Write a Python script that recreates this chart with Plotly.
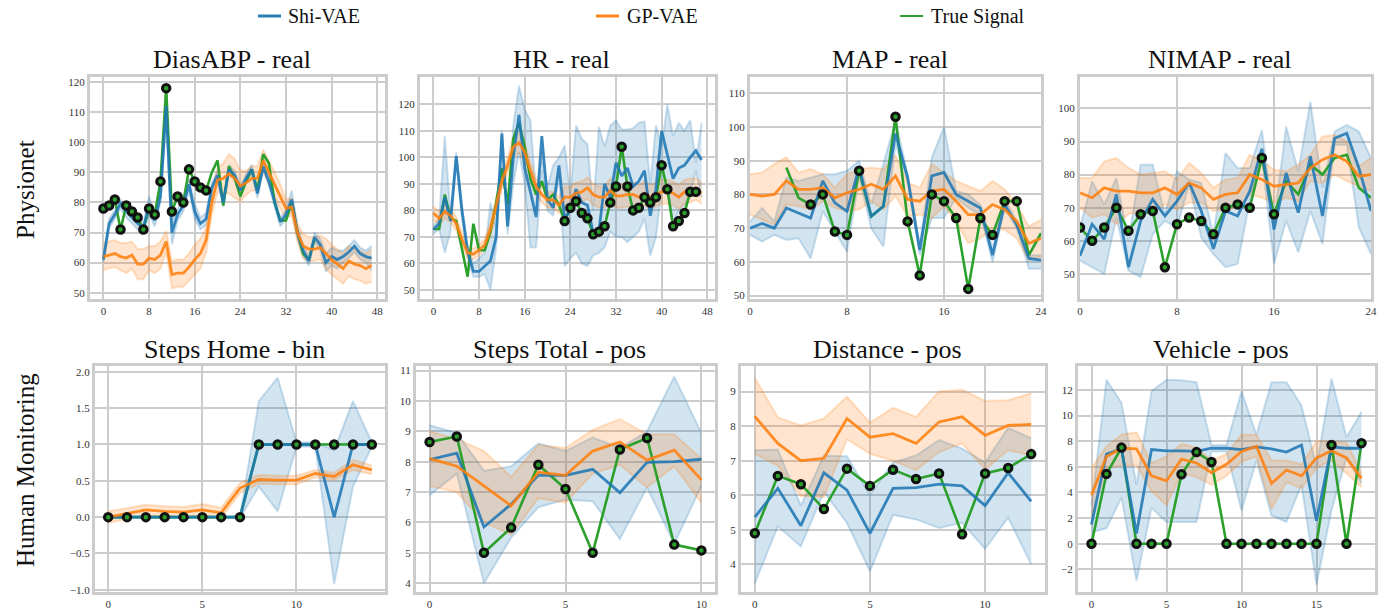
import plotly.graph_objects as go

# ---------------- DATA ----------------
TITLES = ["DiasABP - real", "HR - real", "MAP - real", "NIMAP - real",
          "Steps Home - bin", "Steps Total - pos", "Distance - pos", "Vehicle - pos"]
ROW_LABELS = ["Physionet", "Human Monitoring"]
LEGEND_NAMES = ["Shi-VAE", "GP-VAE", "True Signal"]

# DiasABP
DIAS_BLUE = [61, 73, 76, 79.5, 77, 75, 73, 71.5, 79, 74, 82, 112, 70, 76, 79, 86, 77, 73, 74.5, 85,
             89, 80, 91, 89, 84, 88, 91, 83, 92, 87, 80, 73.5, 76, 81, 70, 64, 60.5, 68.5, 66, 60,
             62, 61, 62, 63.5, 65.5, 63, 62, 61.5]
DIAS_BLUE_HW = [1, 1.5, 1.5, 1.5, 2, 2, 2, 1.5, 3, 2, 2, 3, 4, 2, 2, 2, 2.5, 2, 2, 1.5,
                1.5, 1.5, 1.5, 1.5, 1.5, 1.5, 1.5, 1.5, 1.5, 1.5, 1.5, 1.5, 1.5, 3, 2, 2, 1.5, 1.5, 2, 3,
                3, 3, 2, 2, 2, 2, 2, 4]
DIAS_ORANGE = [62, 62.5, 63, 62, 61.5, 62.5, 59.5, 59.5, 61.5, 61, 62.5, 67, 56, 56.5, 56.5, 58.5, 61, 63,
               67.5, 80, 87.5, 88, 89.5, 88, 85.5, 86.5, 88, 88, 94, 90, 86, 82, 78, 78.5, 70, 65.5,
               64.5, 64.5, 65, 63, 61, 59.5, 58, 60.5, 59.5, 59, 58, 59]
DIAS_ORANGE_HW = [4.5, 4.5, 4.5, 4.5, 5, 4.5, 5, 5, 4, 4.5, 4.5, 3.5, 4.5, 4.5, 4.5, 4.5, 5, 5, 4, 4,
                  4, 5, 6.5, 6.5, 5, 4, 4, 4, 3.5, 4, 4, 4, 3, 3, 3, 4, 4, 4, 4, 5,
                  5, 5, 5, 5, 5, 5, 5, 5.5]
DIAS_TRUE = [78, 79, 81, 71, 79, 77, 75, 71, 78, 76, 87, 118, 77, 82, 80, 91, 87, 85, 84, 90,
             94, 79, 92, 88, 82, 87, 91, 84, 96, 93, 80, 74, 74, 80, 70, 63, 61, 68] + [None] * 10
DIAS_OBS = list(range(0, 19))

# HR
HR_BLUE = [72.8, 75, 85, 76, 100.5, 80, 64.5, 57, 57, 59, 61, 70, 109, 74, 100, 116, 96, 87, 77.5, 108,
           84, 81, 97, 77, 80, 88, 83, 82, 71.5, 72, 90, 85, 98, 93, 96, 89, 91, 95, 78, 88,
           110, 101, 92, 96, 97, 100, 102.5, 99]
HR_BLUE_HI = [74, 77, 108, 78, 102, 82, 66, 60, 62, 64, 83, 73, 110, 76, 112, 127, 118, 114, 86, 100,
              89, 97, 100, 104.5, 86, 112, 107, 105, 80, 111.5, 104, 112, 114, 110.5, 110.5, 111, 113, 113.5, 90, 112,
              104, 120, 108, 113, 110, 114, 98, 113]
HR_BLUE_LO = [71, 73, 64, 72, 99, 77, 62, 55, 55, 56, 50, 66, 106, 71, 90, 102, 90, 66, 66, 95,
              80, 78, 93, 59, 62, 64, 60, 59, 63, 64, 66, 72, 70, 70, 68, 70, 72, 77, 63, 70,
              88, 90, 75, 80, 82, 85, 95, 85]
HR_ORANGE = [79, 77, 79.5, 78, 75, 69, 64, 63.5, 65, 67, 73, 82, 91, 97, 104, 105.5, 102, 95, 89, 86,
             84, 84, 82, 85, 85, 86.5, 87, 88.5, 86, 85, 85, 87.5, 85.5, 85.5, 86, 86, 85, 86.5, 85, 86,
             87, 87, 86.5, 85, 87, 87.5, 88, 86.5]
HR_ORANGE_HW = [2.5, 2.5, 2.5, 2.5, 2.5, 2.5, 2, 2, 2, 2, 2.5, 2.5, 3, 3, 3.5, 4, 3.5, 3, 3, 3,
                3, 3, 3, 4, 4, 4, 4, 4, 4, 4, 4, 4.5, 4.5, 4.5, 4.5, 4.5, 4.5, 4.5, 4.5, 4.5,
                4.5, 4.5, 4.5, 4.5, 4.5, 4.5, 4, 4]
HR_TRUE = [73, 73, 86, 77, 76, 65, 55, 75, 65, 65, 72, 83, 96, 82, 107, 113, 104, 92, 86, 91,
           84, 86, 82, 76, 81, 83.5, 79, 77, 71, 72, 74, 83, 89, 104, 89, 80, 81, 85, 83, 85,
           97, 88, 74, 76, 79, 87, 87, None]
HR_OBS = list(range(23, 47))

# MAP
MAP_BLUE = [70, 71.4, 70, 76, 74.5, 73, 84, 77.5, 75, 88, 73.5, 76.5, 98, 85, 63.5, 85.5, 86.5, 80, 78, 76,
            62, 77, 71, 61, 60.5]
MAP_BLUE_HI = [72, 76, 72, 85, 84, 85, 86, 86, 87, 90, 77, 89, 102, 86, 65, 91, 100, 81, 80, 77,
               64, 79, 72, 62, 62]
MAP_BLUE_LO = [68, 66, 68, 66.5, 67, 61, 75, 69, 63, 85, 70, 64.5, 95, 84, 62, 73, 73, 79, 76, 74,
               60, 76, 70, 58, 58]
MAP_ORANGE = [80, 79.5, 80, 84, 81.5, 81.5, 82, 79, 80.5, 81.5, 83, 81.5, 85.5, 78.5, 78, 81, 81.5, 78, 74, 74,
              77, 75.5, 72, 65.5, 67]
MAP_ORANGE_HW = [6, 7, 9, 7, 5, 6, 4, 3, 5.5, 6, 5, 6, 6, 5, 4, 8, 5, 6, 8.5, 7,
                 7, 6, 5, 5, 5.5]
MAP_TRUE = [None, None, None, 88, 79, 77, 80, 69, 68, 87, 73.5, 76.5, 103, 72, 56, 80, 78, 73, 52, 73,
            68, 78, 78, 62, 68.5]
MAP_OBS = [5, 6, 7, 8, 9, 12, 13, 14, 15, 16, 17, 18, 19, 20, 21, 22]

# NIMAP
NIMAP_BLUE = [55.5, 65, 60.5, 74, 52, 66, 72.5, 67.5, 72, 77.6, 69, 57.6, 69, 67.5, 75, 87.8, 63.4, 80.5, 68.5, 85.5,
              67.5, 91, 92.5, 82, 69]
NIMAP_BLUE_HI = [64, 78, 71, 79, 60, 83, 83, 68, 81, 78.5, 77.5, 62, 86.5, 82, 82, 93.5, 66, 94.5, 81, 102,
                 76, 93, 95, 93, 85]
NIMAP_BLUE_LO = [54, 52, 50, 67, 51, 49, 62, 66, 64, 77, 61, 56, 52, 53, 72, 85, 53, 66, 56.5, 69,
                 59, 89, 89, 64, 56]
NIMAP_ORANGE = [74.5, 73, 76, 75, 75, 74.5, 74.5, 76, 74, 77.5, 76, 72.5, 74, 74.5, 80, 78.5, 76.5, 77, 77.5, 82,
                84.5, 86, 84, 79.5, 80]
NIMAP_ORANGE_HW = [4.5, 6, 8, 10, 7, 5.5, 6, 5, 4.5, 6, 4.5, 3.5, 4.5, 4.5, 6, 5.5, 5, 4, 5.5, 4,
                   7, 6, 6, 3, 5]
NIMAP_TRUE = [64, 60, 64, 70, 63, 68, 69, 52, 65, 67, 66, 62, 70, 71, 70, 85, 68, 78, 74, 83,
              80, 85, 86, 76, 73]
NIMAP_OBS = list(range(0, 17))

# Steps Home
HOME_BLUE = [0, 0, 0, 0, 0, 0, 0, 0, 1, 1, 1, 1, 0, 1, 1]
HOME_BLUE_HI = [0.01, 0.01, 0.01, 0.01, 0.01, 0.01, 0.01, 0.01, 1.6, 1.92, 1.03, 1.03, 0.92, 1.6, 1.03]
HOME_BLUE_LO = [-0.01, -0.01, -0.01, -0.01, -0.01, -0.01, -0.01, -0.01, 0.42, 0.08, 0.97, 0.97, -0.92, 0.42, 0.97]
HOME_ORANGE = [0.0, 0.05, 0.1, 0.08, 0.07, 0.1, 0.06, 0.4, 0.52, 0.51, 0.51, 0.6, 0.56, 0.72, 0.65]
HOME_ORANGE_HW = [0.08, 0.07, 0.07, 0.07, 0.07, 0.08, 0.07, 0.07, 0.06, 0.06, 0.06, 0.05, 0.05, 0.07, 0.06]
HOME_TRUE = [0, 0, 0, 0, 0, 0, 0, 0, 1, 1, 1, 1, 1, 1, 1]
HOME_OBS = list(range(0, 15))

# Steps Total
TOTAL_BLUE = [8.07, 8.28, 5.85, 6.6, 7.55, 7.55, 7.75, 6.98, 7.98, 8.0, 8.08]
TOTAL_BLUE_HI = [9.2, 8.95, 7.7, 7.85, 8.6, 8.35, 8.8, 8.45, 9.0, 10.8, 8.95]
TOTAL_BLUE_LO = [6.9, 7.6, 4.0, 5.5, 6.5, 6.75, 6.7, 5.45, 7.15, 5.3, 7.2]
TOTAL_ORANGE = [8.1, 7.85, 7.2, 6.55, 7.65, 7.55, 8.35, 8.65, 8.05, 8.38, 7.4]
TOTAL_ORANGE_HI = [9.0, 8.75, 8.35, 7.5, 8.55, 8.45, 9.05, 9.4, 8.9, 8.9, 8.1]
TOTAL_ORANGE_LO = [7.2, 7.0, 6.0, 5.6, 6.8, 6.65, 7.6, 7.9, 7.15, 7.85, 6.65]
TOTAL_TRUE = [8.65, 8.83, 5.0, 5.83, 7.9, 7.1, 5.0, 8.4, 8.78, 5.27, 5.08]
TOTAL_OBS = list(range(0, 11))

# Distance
DIST_BLUE = [5.37, 6.2, 5.12, 6.65, 6.15, 4.9, 6.2, 6.22, 6.32, 6.27, 5.7, 6.65, 5.82]
DIST_BLUE_HI = [7.3, 7.32, 5.7, 7.15, 7.13, 6.0, 6.95, 7.15, 7.6, 7.35, 6.95, 7.95, 7.65]
DIST_BLUE_LO = [3.45, 5.1, 4.52, 6.1, 5.2, 3.8, 5.43, 5.3, 5.05, 5.2, 4.45, 5.35, 4.0]
DIST_ORANGE = [8.28, 7.5, 7.0, 7.07, 8.22, 7.68, 7.78, 7.5, 8.12, 8.27, 7.73, 8.02, 8.05]
DIST_ORANGE_HI = [9.4, 8.25, 8.02, 8.22, 8.85, 8.1, 8.53, 8.27, 9.0, 9.05, 8.73, 8.75, 8.95]
DIST_ORANGE_LO = [7.2, 6.85, 5.98, 5.95, 7.62, 7.2, 7.0, 6.72, 7.25, 7.5, 6.75, 7.3, 7.15]
DIST_TRUE = [4.9, 6.56, 6.32, 5.6, 6.77, 6.27, 6.74, 6.47, 6.63, 4.87, 6.63, 6.79, 7.19]
DIST_OBS = list(range(0, 13))

# Vehicle
VEH_BLUE = [1.5, 7.0, 7.4, 0.8, 7.35, 7.25, 7.25, 7.2, 7.45, 7.45, 7.35, 7.55, 7.4, 7.15, 7.7, 1.8, 7.55, 7.45, 7.45]
VEH_BLUE_HI = [3.0, 12.8, 11.0, 4.6, 11.9, 12.8, 12.75, 12.6, 7.7, 7.7, 11.9, 8.5, 12.6, 12.6, 10.8, 6.0, 12.9, 8.3, 10.3]
VEH_BLUE_LO = [0.9, 1.2, 3.6, -2.9, 2.8, 1.7, 1.7, 1.7, 7.2, 7.2, 2.6, 6.5, 2.2, 1.7, 4.6, -3.2, 2.6, 6.7, 4.7]
VEH_ORANGE = [3.8, 6.8, 7.45, 7.4, 5.3, 4.9, 6.6, 6.3, 5.55, 6.2, 7.2, 7.6, 4.7, 5.75, 5.3, 6.7, 7.25, 6.7, 5.1]
VEH_ORANGE_HI = [5.9, 7.6, 8.5, 8.7, 6.3, 6.8, 7.8, 7.5, 6.5, 7.0, 8.5, 8.5, 6.5, 6.5, 6.2, 8.0, 8.0, 7.9, 5.5]
VEH_ORANGE_LO = [2.0, 5.9, 6.1, 6.1, 4.1, 3.0, 5.5, 5.2, 4.6, 5.3, 6.4, 6.8, 2.7, 4.8, 4.3, 5.9, 6.5, 5.5, 4.4]
VEH_TRUE = [0, 5.45, 7.5, 0, 0, 0, 5.42, 7.15, 6.38, 0, 0, 0, 0, 0, 0, 0, 7.7, 0, 7.85]
VEH_OBS = list(range(0, 19))

# axis ticks
X_TICKS = [[0, 8, 16, 24, 32, 40, 48], [0, 8, 16, 24, 32, 40, 48], [0, 8, 16, 24], [0, 8, 16, 24],
           [0, 5, 10], [0, 5, 10], [0, 5, 10], [0, 5, 10, 15]]
Y_TICKS = [[50, 60, 70, 80, 90, 100, 110, 120], [50, 60, 70, 80, 90, 100, 110, 120],
           [50, 60, 70, 80, 90, 100, 110], [50, 60, 70, 80, 90, 100],
           [-1.0, -0.5, 0.0, 0.5, 1.0, 1.5, 2.0], [4, 5, 6, 7, 8, 9, 10, 11],
           [4, 5, 6, 7, 8, 9], [-2, 0, 2, 4, 6, 8, 10, 12]]

# ---------------- LAYOUT HELPERS ----------------
W, H = 1384, 612
X_RANGES = [[-2.35, 49.35], [-2.35, 49.35], [0, 24], [0, 24],
            [-0.7, 14.7], [-0.5, 10.5], [-0.6, 12.6], [-0.9, 18.9]]
Y_RANGES = [[47.9, 121.7], [46.6, 130.3], [49.0, 114.8], [42.4, 109.5],
            [-1.03, 2.08], [3.71, 11.15], [3.2, 9.74], [-3.77, 13.87]]
# frame boxes in pixels (left, right, top, bottom)
BOXES = [(90, 385, 77, 299), (420, 715, 77, 299), (750, 1041, 77, 299), (1080, 1371, 77, 299),
         (95, 385, 366, 592), (416, 715, 366, 592), (741, 1045, 366, 592), (1078, 1375, 366, 592)]
# legend entries: (line start px, line end px, text start px)
LEGEND_POS = [(258, 281, 286), (596, 619, 625), (900, 923, 929)]
LEGEND_Y = 16


def band(mean, hw):
    return [m + h for m, h in zip(mean, hw)], [m - h for m, h in zip(mean, hw)]


d_hi, d_lo = band(DIAS_BLUE, DIAS_BLUE_HW)
do_hi, do_lo = band(DIAS_ORANGE, DIAS_ORANGE_HW)
ho_hi, ho_lo = band(HR_ORANGE, HR_ORANGE_HW)
mo_hi, mo_lo = band(MAP_ORANGE, MAP_ORANGE_HW)
no_hi, no_lo = band(NIMAP_ORANGE, NIMAP_ORANGE_HW)
so_hi, so_lo = band(HOME_ORANGE, HOME_ORANGE_HW)

panels = [
    (DIAS_BLUE, d_hi, d_lo, DIAS_ORANGE, do_hi, do_lo, DIAS_TRUE, DIAS_OBS),
    (HR_BLUE, HR_BLUE_HI, HR_BLUE_LO, HR_ORANGE, ho_hi, ho_lo, HR_TRUE, HR_OBS),
    (MAP_BLUE, MAP_BLUE_HI, MAP_BLUE_LO, MAP_ORANGE, mo_hi, mo_lo, MAP_TRUE, MAP_OBS),
    (NIMAP_BLUE, NIMAP_BLUE_HI, NIMAP_BLUE_LO, NIMAP_ORANGE, no_hi, no_lo, NIMAP_TRUE, NIMAP_OBS),
    (HOME_BLUE, HOME_BLUE_HI, HOME_BLUE_LO, HOME_ORANGE, so_hi, so_lo, HOME_TRUE, HOME_OBS),
    (TOTAL_BLUE, TOTAL_BLUE_HI, TOTAL_BLUE_LO, TOTAL_ORANGE, TOTAL_ORANGE_HI, TOTAL_ORANGE_LO, TOTAL_TRUE, TOTAL_OBS),
    (DIST_BLUE, DIST_BLUE_HI, DIST_BLUE_LO, DIST_ORANGE, DIST_ORANGE_HI, DIST_ORANGE_LO, DIST_TRUE, DIST_OBS),
    (VEH_BLUE, VEH_BLUE_HI, VEH_BLUE_LO, VEH_ORANGE, VEH_ORANGE_HI, VEH_ORANGE_LO, VEH_TRUE, VEH_OBS),
]

BLUE = (31, 119, 180)
ORANGE = (255, 127, 14)
GREEN = "#2ca02c"
FONT = "Liberation Serif"
GRID = "#cccccc"


def rgba(c, a):
    return f"rgba({c[0]},{c[1]},{c[2]},{a})"


fig = go.Figure()
layout = {}
for i, (b, bhi, blo, o, ohi, olo, tr, obs) in enumerate(panels):
    n = i + 1
    xa, ya = ("x", "y") if n == 1 else (f"x{n}", f"y{n}")
    t = list(range(len(b)))
    for col, hi, lo in ((BLUE, bhi, blo), (ORANGE, ohi, olo)):
        fig.add_trace(go.Scatter(x=t, y=hi, xaxis=xa, yaxis=ya, mode="lines",
                                 line=dict(color=rgba(col, 0.22), width=2),
                                 showlegend=False, hoverinfo="skip"))
        fig.add_trace(go.Scatter(x=t, y=lo, xaxis=xa, yaxis=ya, mode="lines", fill="tonexty",
                                 fillcolor=rgba(col, 0.2),
                                 line=dict(color=rgba(col, 0.22), width=2),
                                 showlegend=False, hoverinfo="skip"))
    fig.add_trace(go.Scatter(x=t, y=tr, xaxis=xa, yaxis=ya, mode="lines",
                             line=dict(color=GREEN, width=2.6), name=LEGEND_NAMES[2],
                             showlegend=False, connectgaps=False))
    fig.add_trace(go.Scatter(x=t, y=b, xaxis=xa, yaxis=ya, mode="lines",
                             line=dict(color=rgba(BLUE, 0.88), width=2.8), name=LEGEND_NAMES[0],
                             showlegend=False))
    fig.add_trace(go.Scatter(x=t, y=o, xaxis=xa, yaxis=ya, mode="lines",
                             line=dict(color=rgba(ORANGE, 0.88), width=2.8), name=LEGEND_NAMES[1],
                             showlegend=False))
    fig.add_trace(go.Scatter(x=obs, y=[tr[k] for k in obs], xaxis=xa, yaxis=ya, mode="markers",
                             marker=dict(color=GREEN, size=7.5, line=dict(color="#111111", width=3)),
                             showlegend=False, hoverinfo="skip"))

    L, R, T, B = BOXES[i]
    axis_common = dict(showgrid=True, gridcolor=GRID, gridwidth=2, showline=True, mirror=True,
                       linecolor=GRID, linewidth=3, zeroline=False, ticks="", automargin=False,
                       tickfont=dict(family=FONT, size=11, color="#333333"))
    layout["xaxis" if n == 1 else f"xaxis{n}"] = dict(
        domain=[L / W, R / W], range=X_RANGES[i], tickvals=X_TICKS[i],
        anchor=ya, **axis_common)
    yfmt = ".1f" if i == 4 else None
    layout["yaxis" if n == 1 else f"yaxis{n}"] = dict(
        domain=[1 - B / H, 1 - T / H], range=Y_RANGES[i], tickvals=Y_TICKS[i],
        anchor=xa, tickformat=yfmt, **axis_common)

annotations = []
shapes = []
for i, title in enumerate(TITLES):
    L, R, T, B = BOXES[i]
    annotations.append(dict(text=title, x=((L + R) / 2 - 6) / W, y=1 - (T - 17) / H, xref="paper", yref="paper",
                            showarrow=False, xanchor="center", yanchor="middle",
                            font=dict(family=FONT, size=26, color="#111111")))
for label, yc in zip(ROW_LABELS, (190, 470)):
    annotations.append(dict(text=label, x=25 / W, y=1 - yc / H, xref="paper", yref="paper",
                            showarrow=False, textangle=-90, xanchor="center", yanchor="middle",
                            font=dict(family=FONT, size=25, color="#111111")))
legend_cols = [rgba(BLUE, 0.95), rgba(ORANGE, 0.95), GREEN]
for name, (x0, x1, xt), col in zip(LEGEND_NAMES, LEGEND_POS, legend_cols):
    shapes.append(dict(type="line", xref="paper", yref="paper", x0=x0 / W, x1=x1 / W,
                       y0=1 - LEGEND_Y / H, y1=1 - LEGEND_Y / H,
                       line=dict(color=col, width=3 if col != GREEN else 2)))
    annotations.append(dict(text=name, x=xt / W, y=1 - LEGEND_Y / H, xref="paper", yref="paper",
                            showarrow=False, xanchor="left", yanchor="middle",
                            font=dict(family=FONT, size=20, color="#111111")))

fig.update_layout(
    template="none",
    width=W, height=H, margin=dict(l=0, r=0, t=0, b=0, pad=0),
    paper_bgcolor="white", plot_bgcolor="white",
    showlegend=False, hovermode=False,
    annotations=annotations, shapes=shapes,
    **layout,
)

fig.write_html("out.html", config={"displayModeBar": False, "staticPlot": True},
               post_script="document.body.style.margin='0';document.body.style.overflow='hidden';")
